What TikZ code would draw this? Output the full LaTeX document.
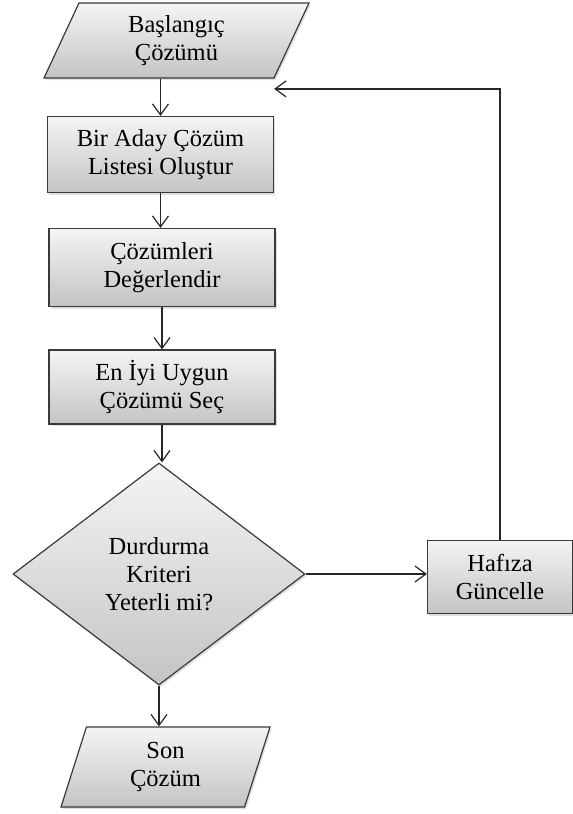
\documentclass[tikz,border=0pt]{standalone}
\usepackage{fontspec}
\setmainfont{Liberation Serif}
\usetikzlibrary{shapes.geometric,arrows.meta,shadows,calc}

\definecolor{edgegray}{HTML}{3A3A3A}
\definecolor{filltop}{HTML}{F4F4F4}
\definecolor{fillbot}{HTML}{C4C4C4}

\tikzset{
  flowshape/.style={draw=edgegray, line width=1.2pt, top color=filltop, bottom color=fillbot,
    drop shadow={shadow xshift=1.6pt, shadow yshift=-2pt, opacity=0.25},
    align=center, inner sep=0pt, text=black,
    font=\fontsize{24.5}{28.3}\selectfont},
  procbox/.style={flowshape, rectangle, minimum width=226pt, minimum height=76pt},
  iobox/.style={flowshape, trapezium, trapezium stretches body},
  decide/.style={flowshape, diamond, minimum width=292pt, minimum height=222pt},
  arr/.style={draw=black!85, line width=1.2pt, -{Straight Barb[length=11pt,width=16pt,line width=1.2pt]}},
}

\begin{document}
\begin{tikzpicture}[x=1pt,y=-1pt]
  \useasboundingbox (0,0) rectangle (573,814);

  % input and process steps
  \node[iobox, trapezium left angle=55.3, trapezium right angle=124.7,
        minimum width=265pt, minimum height=75pt] (start) at (176.5,40.5) {Başlangıç\\Çözümü};
  \node[procbox] (list) at (160.5,154.5) {Bir Aday Çözüm\\Listesi Oluştur};
  \node[procbox, minimum height=78pt] (eval) at (162,267.5) {Çözümleri\\Değerlendir};
  \node[procbox, minimum height=74pt] (pick) at (162,387) {En İyi Uygun\\Çözümü Seç};

  % stopping test and memory update
  \node[decide] (stop) at (159,574) {Durdurma\\Kriteri\\Yeterli mi?};
  \node[procbox, minimum width=145pt, minimum height=73pt] (mem) at (500,577) {Hafıza\\Güncelle};

  % final output
  \node[iobox, trapezium left angle=62.9, trapezium right angle=117.1,
        minimum width=209pt, minimum height=80pt] (final) at (165.5,767) {Son\\Çözüm};

  % flow connectors
  \draw[arr] (list.north |- start.south) -- (list.north);
  \draw[arr] (list.south) -- (list.south |- eval.north);
  \draw[arr] (eval.south) -- (eval.south |- pick.north);
  \draw[arr] (pick.south) -- (pick.south |- stop.north);
  \draw[arr] (stop.east) -- (stop.east -| mem.west);
  \draw[arr] (stop.south) -- (stop.south |- final.north);

  % loop back to the candidate list
  \coordinate (loopend) at ($(list.north east)+(0,-27)$);
  \draw[arr] (mem.north) |- (loopend);
\end{tikzpicture}
\end{document}
